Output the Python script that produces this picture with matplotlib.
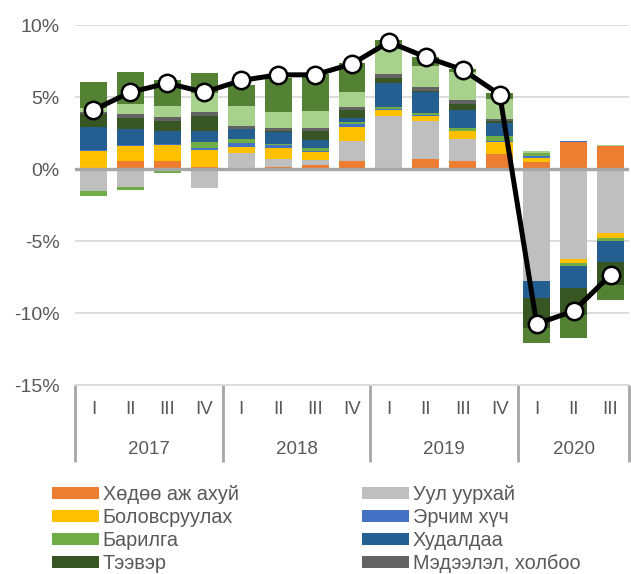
import matplotlib
matplotlib.use("Agg")
import matplotlib.pyplot as plt
import matplotlib.transforms as mtransforms
from matplotlib.patches import Patch
import numpy as np

plt.rcParams['font.family'] = ['Liberation Sans', 'DejaVu Sans']

years = ["2017", "2018", "2019", "2020"]
quarters = ["I", "II", "III", "IV", "I", "II", "III", "IV", "I", "II", "III", "IV", "I", "II", "III"]

series_names = ["Хөдөө аж ахуй", "Уул уурхай", "Боловсруулах", "Эрчим хүч", "Барилга",
                "Худалдаа", "Тээвэр", "Мэдээлэл, холбоо", "Бусад үйлчилгээ", "Бүтээгдэхүүний цэвэр татвар"]

agriculture   = [0.05, 0.53, 0.58, 0.15, 0.05, 0.15, 0.30, 0.58, 0.05, 0.67, 0.58, 1.04, 0.46, 1.85, 1.57]
mining        = [-1.56, -1.28, -0.10, -1.35, 1.05, 0.55, 0.33, 1.34, 3.66, 2.63, 1.50, 0.00, -7.78, -6.27, -4.41]
manufacturing = [1.20, 1.05, 1.10, 1.20, 0.42, 0.74, 0.55, 1.03, 0.40, 0.36, 0.53, 0.81, 0.28, -0.28, -0.40]
energy        = [0.08, 0.08, 0.08, 0.10, 0.28, 0.20, 0.10, 0.15, 0.05, 0.08, 0.05, 0.08, 0.18, 0.07, 0.00]
construction  = [-0.30, -0.15, -0.15, 0.40, 0.30, 0.10, 0.15, 0.15, 0.15, 0.15, 0.20, 0.35, 0.16, -0.18, -0.18]
trade         = [1.60, 1.10, 0.90, 0.80, 0.65, 0.80, 0.60, 0.30, 1.68, 1.43, 1.25, 0.90, -1.20, -1.56, -1.50]
transport     = [0.86, 0.80, 0.70, 1.00, 0.05, 0.10, 0.58, 0.55, 0.30, 0.10, 0.42, 0.15, -2.09, -1.88, -1.56]
ict           = [0.14, 0.25, 0.25, 0.30, 0.20, 0.20, 0.23, 0.20, 0.28, 0.30, 0.24, 0.15, 0.00, 0.00, 0.00]
other_serv    = [0.28, 0.70, 0.75, 1.30, 1.35, 1.10, 1.16, 1.05, 1.76, 1.46, 1.97, 1.39, 0.14, 0.03, 0.10]
net_taxes     = [1.85, 2.20, 1.85, 1.45, 1.50, 2.40, 2.60, 2.00, 0.65, 0.58, 0.23, 0.40, -1.00, -1.55, -1.04]

gdp_growth    = [4.1, 5.33, 5.96, 5.33, 6.15, 6.54, 6.54, 7.3, 8.82, 7.77, 6.89, 5.17, -10.75, -9.87, -7.36]

colors = ["#ED7D31", "#BFBFBF", "#FFC000", "#4472C4", "#70AD47",
          "#255E91", "#375623", "#636363", "#A9D18E", "#548235"]

data = [agriculture, mining, manufacturing, energy, construction,
        trade, transport, ict, other_serv, net_taxes]

fig = plt.figure(figsize=(6.31, 5.74), dpi=100)
ax = fig.add_axes([75/631, 1 - 385/574, (629 - 75)/631, 360/574])

x = np.arange(len(quarters))
pos_base = np.zeros(len(x))
neg_base = np.zeros(len(x))
for vals, col in zip(data, colors):
    v = np.array(vals, dtype=float)
    pos = np.where(v > 0, v, 0)
    neg = np.where(v < 0, v, 0)
    ax.bar(x, pos, bottom=pos_base, width=0.73, color=col, linewidth=0, zorder=2)
    ax.bar(x, neg, bottom=neg_base, width=0.73, color=col, linewidth=0, zorder=2)
    pos_base += pos
    neg_base += neg

ax.axhline(0, color="#A6A6A6", lw=2.4, zorder=3)
ax.plot(x, gdp_growth, color="black", lw=3.6, marker="o", markersize=12.5,
        markerfacecolor="white", markeredgecolor="black", markeredgewidth=1.8, zorder=4)

ax.set_xlim(-0.5, len(x) - 0.5)
ax.set_ylim(-15, 10)
ax.set_yticks([-15, -10, -5, 0, 5, 10])
ax.set_yticklabels(["-15%", "-10%", "-5%", "0%", "5%", "10%"])
ax.tick_params(axis='y', length=0, pad=11, labelsize=14, labelcolor="#595959")
ax.set_xticks([])
for y in [-10, -5, 5, 10]:
    ax.axhline(y, color="#D9D9D9", lw=1.3, zorder=1)
for s in ["left", "right", "top"]:
    ax.spines[s].set_visible(False)
ax.spines["bottom"].set_color("#D9D9D9")
ax.spines["bottom"].set_linewidth(1.3)

trans = mtransforms.blended_transform_factory(ax.transData, ax.transAxes)
for i, q in enumerate(quarters):
    ax.text(i, -0.069, q, transform=trans, ha="center", va="center",
            fontsize=13.5, color="#595959")
year_groups = [(0, 3), (4, 7), (8, 11), (12, 14)]
for yr, (a, b) in zip(years, year_groups):
    ax.text((a + b) / 2, -0.178, yr, transform=trans, ha="center", va="center",
            fontsize=13.5, color="#595959")
for bnd in [-0.5, 3.5, 7.5, 11.5, 14.5]:
    ax.plot([bnd, bnd], [0, -0.214], transform=trans, color="#A6A6A6", lw=2,
            clip_on=False, solid_capstyle="butt")

col1 = [0, 2, 4, 6]
col2 = [1, 3, 5, 7]
for idxs, xpos in [(col1, 52), (col2, 362)]:
    handles = [Patch(facecolor=colors[i], edgecolor="none") for i in idxs]
    labels = [series_names[i] for i in idxs]
    leg = fig.legend(handles, labels, loc="upper left",
                     bbox_to_anchor=(xpos / 631, 1 - 485 / 574),
                     frameon=False, fontsize=14.3, handlelength=2.36, handleheight=0.5,
                     handletextpad=0.2, labelspacing=0.2, borderpad=0, borderaxespad=0)
    for t in leg.get_texts():
        t.set_color("#595959")

fig.savefig("out.png", dpi=100)
